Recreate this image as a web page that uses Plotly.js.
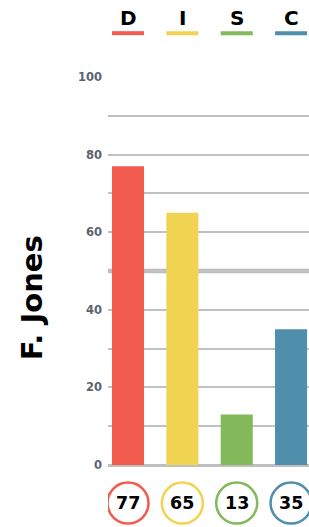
<!DOCTYPE html>
<html>
<head>
<meta charset="utf-8">
<script src="https://cdn.plot.ly/plotly-3.0.1.min.js"></script>
<style>html,body{margin:0;padding:0;background:#fff;}#chart{width:309px;height:527px;}</style>
</head>
<body>
<div id="chart"></div>
<script>
var categories = ["D", "I", "S", "C"];
var values = [77, 65, 13, 35];
var colors = ["#f25c4f", "#f1d352", "#82b95a", "#4f8fab"];
var personName = "F. Jones";
var referenceLevel = 50;
var yTickVals = [0, 20, 40, 60, 80, 100];

var xIdx = categories.map(function(_, i){ return i; });

var trace = {
  type: "bar",
  x: xIdx,
  y: values,
  marker: {color: colors},
  width: 0.59,
  hoverinfo: "none"
};

var shapes = [];
var annotations = [];

shapes.push({type: "line", xref: "paper", yref: "y", x0: 0, x1: 1, y0: referenceLevel, y1: referenceLevel,
  line: {color: "#bfbdbb", width: 4.5}, layer: "below"});

categories.forEach(function(c, i){
  annotations.push({xref: "x", yref: "paper", x: i, y: 1.152, text: "<b>" + c + "</b>", showarrow: false,
    font: {family: "DejaVu Sans", size: 20, color: "#000"}, xanchor: "center", yanchor: "middle"});
  shapes.push({type: "rect", xref: "x", yref: "paper", xsizemode: "pixel", ysizemode: "pixel",
    xanchor: i, yanchor: 1.113, x0: -16, x1: 16, y0: -2, y1: 2,
    fillcolor: colors[i], line: {width: 0}});
  shapes.push({type: "circle", xref: "x", yref: "paper", xsizemode: "pixel", ysizemode: "pixel",
    xanchor: i, yanchor: -0.098, x0: -20.5, x1: 20.5, y0: -20.5, y1: 20.5,
    fillcolor: "rgba(0,0,0,0)", line: {color: colors[i], width: 2.5}});
  annotations.push({xref: "x", yref: "paper", x: i, y: -0.098, text: "<b>" + values[i] + "</b>", showarrow: false,
    font: {family: "DejaVu Sans", size: 17.5, color: "#000"}, xanchor: "center", yanchor: "middle"});
});

annotations.push({xref: "paper", yref: "paper", x: -0.378, y: 0.43, text: "<b>" + personName + "</b>", showarrow: false,
  textangle: -90, font: {family: "DejaVu Sans", size: 29, color: "#000"}, xanchor: "center", yanchor: "middle"});

yTickVals.forEach(function(v){
  annotations.push({xref: "paper", yref: "y", x: 0, y: v, xshift: -4, text: "<b>" + v + "</b>", showarrow: false,
    font: {family: "DejaVu Sans", size: 11.5, color: "#5b6371"}, xanchor: "right", yanchor: "middle"});
});

var layout = {
  width: 309, height: 527,
  margin: {l: 108, r: 0, t: 77, b: 62},
  paper_bgcolor: "#fff", plot_bgcolor: "#fff",
  showlegend: false,
  xaxis: {range: [-0.368, 3.33], showticklabels: false, showgrid: false, zeroline: false, fixedrange: true},
  yaxis: {range: [0, 100], tickvals: yTickVals, showticklabels: false,
    showgrid: true, gridcolor: "#c3c0bd", gridwidth: 2,
    minor: {dtick: 10, showgrid: true, gridcolor: "#c3c0bd", gridwidth: 2},
    zeroline: true, zerolinecolor: "#bfbfbf", zerolinewidth: 3},
  shapes: shapes,
  annotations: annotations,
  bargap: 0.41
};

Plotly.newPlot("chart", [trace], layout, {displayModeBar: false, staticPlot: true});
</script>
</body>
</html>
